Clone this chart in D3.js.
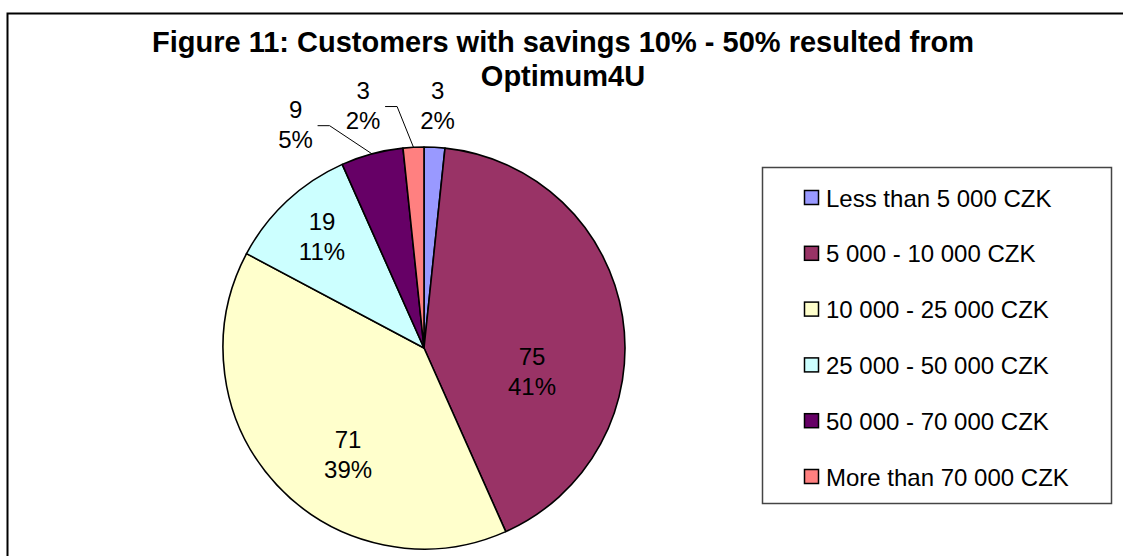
<!DOCTYPE html>
<html>
<head>
<meta charset="utf-8">
<script src="https://cdn.jsdelivr.net/npm/d3@7/dist/d3.min.js"></script>
<style>
  html, body { margin: 0; padding: 0; background: #fff; }
  svg { display: block; font-family: "Liberation Sans", Arial, sans-serif; }
</style>
</head>
<body>
<svg id="chart" width="1123" height="556"></svg>
<script>
// ---- data ----
const categories = ["Less than 5 000 CZK", "5 000 - 10 000 CZK", "10 000 - 25 000 CZK",
                    "25 000 - 50 000 CZK", "50 000 - 70 000 CZK", "More than 70 000 CZK"];
const values = [3, 75, 71, 19, 9, 3];
const percentLabels = ["2%", "41%", "39%", "11%", "5%", "2%"];
const titleLines = ["Figure 11: Customers with savings 10% - 50% resulted from", "Optimum4U"];

// ---- layout / style ----
const colors = ["#9999FF", "#993366", "#FFFFCC", "#CCFFFF", "#660066", "#FF8080"];
const W = 1123, H = 556;
const cx = 424, cy = 348, R = 201;
// label placement in polar terms (degrees clockwise from 12 o'clock, radius px)
const labelPolar = [
  {a: 3.2, r: 243, leader: false},
  {a: 102.5, r: 110.6, leader: false},
  {a: 215.5, r: 130.8, leader: false},
  {a: 317.5, r: 151, leader: false},
  {a: 330.1, r: 257.6, leader: true},
  {a: 345.9, r: 250, leader: true}
];
const fontSize = 24;

const svg = d3.select("#chart");

// frame
svg.append("rect")
  .attr("x", 7.5).attr("y", 13.5)
  .attr("width", W + 20).attr("height", H + 20)
  .attr("fill", "#fff").attr("stroke", "#000").attr("stroke-width", 2);

// title
const title = svg.append("text")
  .attr("text-anchor", "middle")
  .attr("font-weight", "bold")
  .attr("font-size", 29)
  .attr("fill", "#000");
titleLines.forEach((t, i) => {
  title.append("tspan").attr("x", 563).attr("y", 52 + i * 34).text(t);
});

// pie
const data = categories.map((c, i) => ({cat: c, value: values[i], pct: percentLabels[i], i}));
const pie = d3.pie().value(d => d.value).sort(null).startAngle(0).endAngle(2 * Math.PI);
const arcs = pie(data);
const arc = d3.arc().innerRadius(0).outerRadius(R);
const color = d3.scaleOrdinal().domain(categories).range(colors);

const g = svg.append("g").attr("transform", `translate(${cx},${cy})`);
g.selectAll("path.slice")
  .data(arcs)
  .join("path")
  .attr("class", "slice")
  .attr("d", arc)
  .attr("fill", d => color(d.data.cat))
  .attr("stroke", "#000")
  .attr("stroke-width", 1.6)
  .attr("stroke-linejoin", "round");

// labels
const rad = a => a * Math.PI / 180;
arcs.forEach((d, i) => {
  const lp = labelPolar[i];
  const lx = lp.r * Math.sin(rad(lp.a));
  const ly = -lp.r * Math.cos(rad(lp.a));
  if (lp.leader) {
    const mid = (d.startAngle + d.endAngle) / 2;
    const ex = R * Math.sin(mid), ey = -R * Math.cos(mid);
    const sx = lx + 22, sy = ly + 1;
    g.append("path")
      .attr("d", d3.line()([[sx, sy], [sx + 12, sy], [ex, ey]]))
      .attr("fill", "none").attr("stroke", "#000").attr("stroke-width", 1);
  }
  const t = g.append("text")
    .attr("text-anchor", "middle")
    .attr("font-size", fontSize)
    .attr("fill", "#000");
  t.append("tspan").attr("x", lx).attr("y", ly - 15).attr("dy", "0.35em").text(d.data.value);
  t.append("tspan").attr("x", lx).attr("y", ly + 15).attr("dy", "0.35em").text(d.data.pct);
});

// legend
const lg = svg.append("g");
lg.append("rect")
  .attr("x", 762.5).attr("y", 167.5).attr("width", 349).attr("height", 336)
  .attr("fill", "#fff").attr("stroke", "#444").attr("stroke-width", 1.5);
const rowY = d3.scalePoint().domain(categories).range([198, 477]);
const items = lg.selectAll("g.item").data(categories).join("g").attr("class", "item")
  .attr("transform", c => `translate(0,${rowY(c)})`);
items.append("rect")
  .attr("x", 804.5).attr("y", -7.5).attr("width", 14).attr("height", 14)
  .attr("fill", c => color(c)).attr("stroke", "#000").attr("stroke-width", 1.5);
items.append("text")
  .attr("x", 826).attr("y", 0).attr("dy", "0.36em")
  .attr("font-size", fontSize).attr("fill", "#000")
  .text(c => c);
</script>
</body>
</html>
